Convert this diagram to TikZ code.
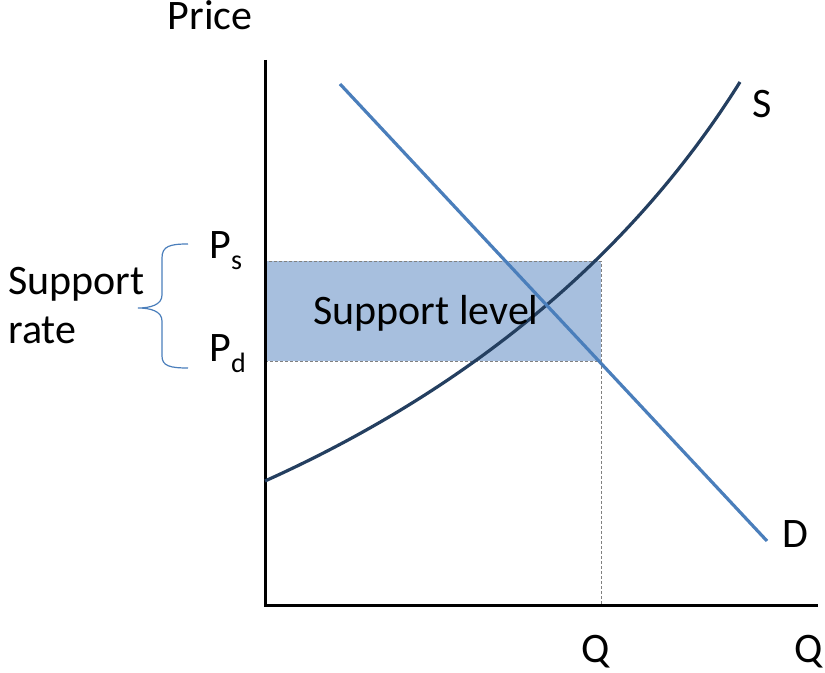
\documentclass[tikz,border=0pt]{standalone}
\usepackage{fontspec}
\setmainfont{Carlito}
\usepackage{tikz}
\usetikzlibrary{positioning,calc}
\definecolor{supplyblue}{HTML}{243F60}
\definecolor{demandblue}{HTML}{4A7EBB}
\definecolor{bandfill}{HTML}{A7BFDE}
\definecolor{guidegray}{HTML}{808080}
\tikzset{
  axisline/.style={line width=1.5pt, black},
  supplyline/.style={line width=1.6pt, color=supplyblue},
  demandline/.style={line width=1.6pt, color=demandblue},
  bandbox/.style={fill=bandfill, draw=guidegray, line width=0.4pt,
    dash pattern=on 1.5pt off 1pt},
  guideline/.style={draw=guidegray, line width=0.4pt,
    dash pattern=on 1.5pt off 1pt},
  bracket/.style={draw=demandblue, line width=0.6pt},
  lbl/.style={inner sep=0pt, font=\fontsize{21}{25}\selectfont}
}
\newcommand{\lowsub}[1]{\raisebox{-5.5pt}{\fontsize{14}{16}\selectfont #1}}

\begin{document}
\begin{tikzpicture}[x=0.5pt, y=-0.5pt]
  \useasboundingbox (0,0) rectangle (825,673);

  % Axes
  \coordinate (origin) at (265,605);
  \coordinate (ytop) at (265,60);
  \coordinate (xend) at (818,605);
  \coordinate (bandtl) at (265,261);
  \coordinate (bandbr) at (601,361);

  % Support band
  \draw[bandbox] (bandtl) rectangle (bandbr);
  \draw[guideline] (bandbr) -- (bandbr |- origin);

  \draw[axisline] (ytop) -- (origin) -- (xend);

  % Supply and demand
  \coordinate (s0) at (265,481);
  \coordinate (s1) at (740,82);
  \draw[supplyline] (s0) .. controls (465,391) and (630,258) .. (s1);
  \coordinate (d0) at (340,84);
  \coordinate (d1) at (767,541);
  \draw[demandline] (d0) -- (d1);

  % Brace
  \draw[bracket] (188,244) .. controls (170,244) and (162,246) .. (162,258)
    -- (162,295) .. controls (162,305) and (150,308) .. (138,308)
    .. controls (150,308) and (162,311) .. (162,321)
    -- (162,356) .. controls (162,366) and (170,368) .. (188,368);

  % Labels
  \node[lbl, anchor=base] (price) at (210,30) {Price};
  \node[lbl, anchor=base] (slabel) at (762,118) {S};
  \node[lbl, anchor=base] (dlabel) at (795,548) {D};
  \node[lbl, anchor=base] (qstar) at (596,662) {Q};
  \node[lbl, anchor=base] (qaxis) at (809,662) {Q};
  \node[lbl, anchor=base] (level) at (426,325) {Support level};
  \node[lbl, anchor=base west] (ps) at (209,259) {P\lowsub{s}};
  \node[lbl, anchor=base west] (pd) at (209,362) {P\lowsub{d}};
  \node[lbl, anchor=base west] (rate1) at (8,295) {Support};
  \node[lbl, anchor=base west] (rate2) at (8,344) {rate};
\end{tikzpicture}
\end{document}
